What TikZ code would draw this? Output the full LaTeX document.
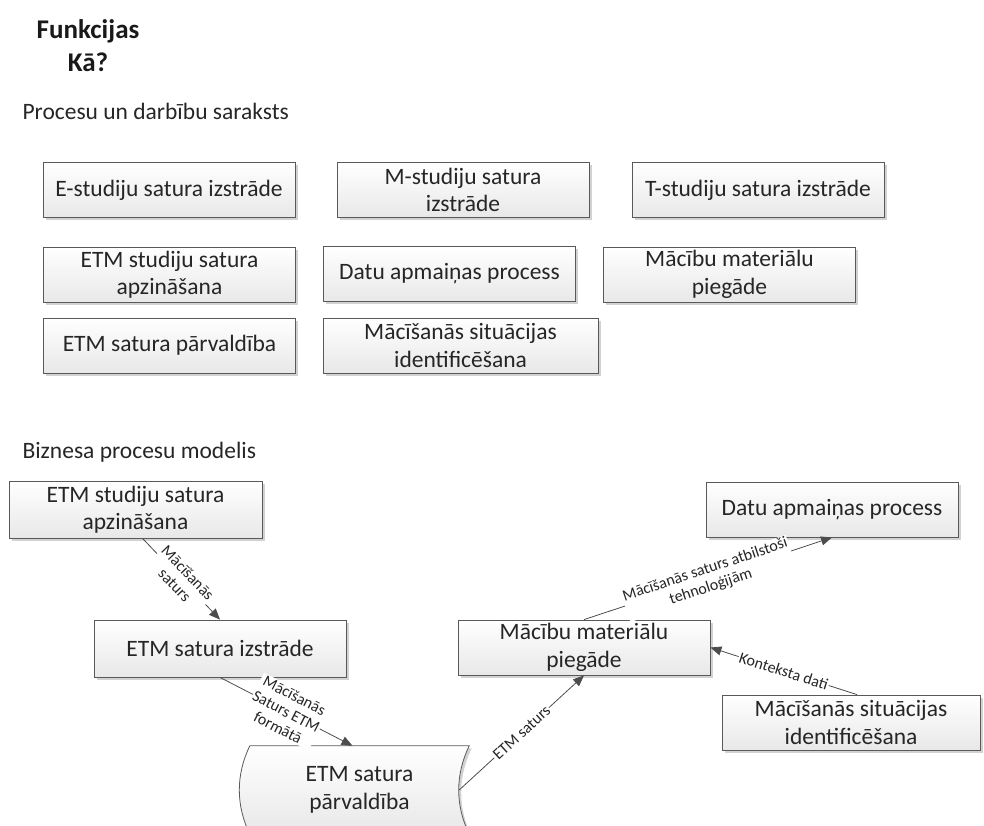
\documentclass[tikz,border=0pt]{standalone}
\usepackage{fontspec}
\setmainfont{Carlito}
\usetikzlibrary{arrows.meta,shadows,backgrounds}
\newcommand\boxfont{\fontsize{23.5}{27.5}\selectfont}
\newcommand\lblfont{\fontsize{16}{18}\selectfont}
\begin{document}
\begin{tikzpicture}[x=1pt,y=-1pt,
  proc/.style={draw=black!65, line width=0.8pt, top color=white, bottom color=black!9,
    text=black!85, font=\boxfont, align=center, minimum width=252pt, minimum height=55pt,
    inner sep=1pt, drop shadow={shadow xshift=2.5pt, shadow yshift=-2.5pt, fill=black!35, opacity=0.5}},
  flow/.style={draw=black!70, line width=0.8pt, -{Triangle[width=9pt,length=11pt]}},
  lbl/.style={sloped, fill=white, inner sep=1pt, font=\lblfont, text=black!85, align=center},
  heading/.style={font=\fontsize{23.5}{27}\selectfont, text=black!85, anchor=west}
]
\useasboundingbox (0,0) rectangle (984,825);

% title and section headings
\node[font=\bfseries\fontsize{27}{33}\selectfont, align=center, text=black!90] (title) at (88,46) {Funkcijas\\Kā?};
\node[heading] (list) at (19,111) {Procesu un darbību saraksts};
\node[heading] (model) at (19,452) {Biznesa procesu modelis};

% list of processes
\node[proc] (l1) at (169,190) {E-studiju satura izstrāde};
\node[proc] (l2) at (463,190) {M-studiju satura\\izstrāde};
\node[proc] (l3) at (758,190) {T-studiju satura izstrāde};
\node[proc] (l4) at (169.5,274.5) {ETM studiju satura\\apzināšana};
\node[proc] (l5) at (449.5,274) {Datu apmaiņas process};
\node[proc] (l6) at (729.5,274.5) {Mācību materiālu\\piegāde};
\node[proc] (l7) at (169.5,345.5) {ETM satura pārvaldība};
\node[proc, minimum width=275pt] (l8) at (460.5,345.5) {Mācīšanās situācijas\\identificēšana};

% business process model
\node[proc, minimum width=253pt, minimum height=57pt] (A) at (135.5,509.5) {ETM studiju satura\\apzināšana};
\node[proc, minimum height=57pt] (B) at (220,648.5) {ETM satura izstrāde};
\node[proc] (C) at (832,509.5) {Datu apmaiņas process};
\node[proc] (D) at (584,647.5) {Mācību materiālu\\piegāde};
\node[proc, minimum width=258pt] (E) at (851,722.5) {Mācīšanās situācijas\\identificēšana};

% stored-data shape
\node[font=\boxfont, text=black!85, align=center, minimum width=219pt, minimum height=88pt] (F) at (359.5,790) {ETM satura\\pārvaldība};
\begin{scope}[on background layer]
\draw[draw=black!65, line width=0.8pt, top color=white, bottom color=black!9,
      drop shadow={shadow xshift=2.5pt, shadow yshift=-2.5pt, fill=black!35, opacity=0.5}]
  (F.north west) -- (F.north east)
  .. controls ([xshift=-14pt,yshift=-29pt]F.north east) and ([xshift=-14pt,yshift=29pt]F.south east) .. (F.south east)
  -- (F.south west)
  .. controls ([xshift=-14pt,yshift=29pt]F.south west) and ([xshift=-14pt,yshift=-29pt]F.north west) .. (F.north west)
  -- cycle;
\end{scope}

% data flows
\draw[flow] ([xshift=7pt]A.south) -- node[lbl] {Mācīšanās\\saturs} (B.north);
\draw[flow] (B.south) -- node[lbl] {Mācīšanās\\Saturs ETM\\formātā} ([xshift=-7pt]F.north);
\draw[flow] ([xshift=-10pt]F.east) -- node[lbl] {ETM saturs} (D.south);
\draw[flow] (D.north) -- node[lbl] {Mācīšanās saturs atbilstoši\\tehnoloģijām} (C.south);
\draw[flow] ([xshift=6pt]E.north) -- node[lbl] {Konteksta dati} (D.east);
\end{tikzpicture}
\end{document}
